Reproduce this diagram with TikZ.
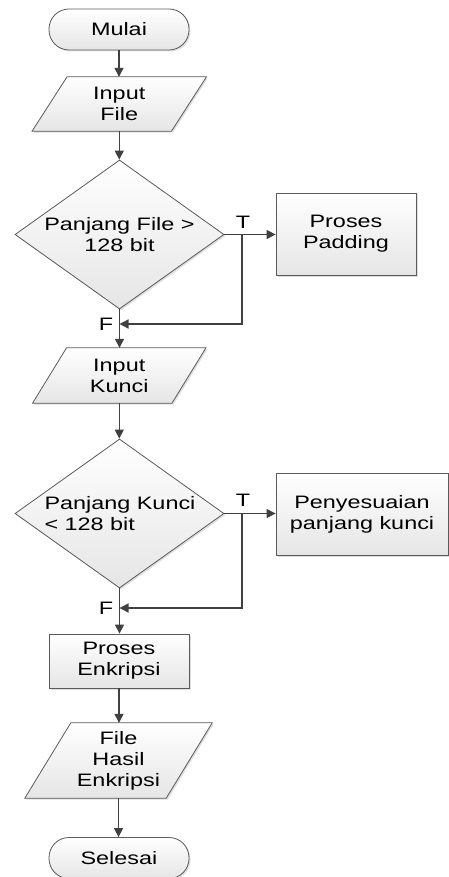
\documentclass[tikz,border=0pt]{standalone}
\usepackage{fontspec}
\setmainfont{Liberation Sans}[FakeStretch=1.3]
\usetikzlibrary{shapes.geometric,arrows.meta,shadows,backgrounds}
\definecolor{edgec}{HTML}{5A5A5A}
\definecolor{arrc}{HTML}{404040}
\tikzset{
 base/.style={draw=edgec, line width=0.8pt, top color=white, bottom color=gray!20,
   drop shadow={shadow xshift=1.5pt,shadow yshift=-1.5pt,opacity=0.25,fill=gray}},
 term/.style={base, rectangle, rounded corners=20pt, minimum width=140pt, minimum height=41pt, inner sep=0pt, align=center},
 proc/.style={base, rectangle, inner sep=0pt, align=center},
 dec/.style={base, diamond, minimum width=209pt, minimum height=149pt, inner sep=0pt},
 iobox/.style={rectangle, inner sep=0pt, align=center},
 txt/.style={inner sep=0pt},
 flow/.style={draw=arrc, line width=1.3pt, -{Triangle[length=9pt,width=9pt]}},
 lbl/.style={inner sep=0pt},
}
\begin{document}
\begin{tikzpicture}[x=1pt,y=-1pt,font=\fontsize{18}{21}\selectfont]
\useasboundingbox (0,0) rectangle (449,877);
% nodes
\node[term] (mulai) at (119,29.5) {Mulai};
\node[iobox, minimum width=139pt, minimum height=54pt] (inf) at (119.25,104) {Input\\File};
\node[dec] (d1) at (119.5,234.5) {};
\node[txt, align=center] (d1t) at (119.5,235) {Panjang File >\\128 bit};
\node[proc, minimum width=140pt, minimum height=82pt] (pad) at (346,234) {Proses\\Padding};
\node[iobox, minimum width=139pt, minimum height=55pt] (ink) at (119.25,375.5) {Input\\Kunci};
\node[dec] (d2) at (119.5,513.5) {};
\node[txt, align=left] (d2t) at (120,514) {Panjang Kunci\\< 128 bit};
\node[proc, minimum width=172pt, minimum height=82pt] (pen) at (362,514) {Penyesuaian\\panjang kunci};
\node[proc, minimum width=140pt, minimum height=54pt] (enk) at (119,661) {Proses\\Enkripsi};
\node[iobox, minimum width=141pt, minimum height=75pt] (hsl) at (118.5,760.5) {File\\Hasil\\Enkripsi};
\node[term] (sel) at (119,858) {Selesai};
% parallelogram outlines
\begin{scope}[on background layer]
\draw[base] ([xshift=17.5pt]inf.north west) -- ([xshift=17.5pt]inf.north east) -- ([xshift=-17.5pt]inf.south east) -- ([xshift=-17.5pt]inf.south west) -- cycle;
\draw[base] ([xshift=17pt]ink.north west) -- ([xshift=17pt]ink.north east) -- ([xshift=-17pt]ink.south east) -- ([xshift=-17pt]ink.south west) -- cycle;
\draw[base] ([xshift=23pt]hsl.north west) -- ([xshift=23pt]hsl.north east) -- ([xshift=-23pt]hsl.south east) -- ([xshift=-23pt]hsl.south west) -- cycle;
\end{scope}
% junction coordinates
\coordinate (j1) at (242,234.5);
\coordinate (m1) at (119.5,324);
\coordinate (j2) at (242,513.5);
\coordinate (m2) at (119.5,608);
% connectors
\draw[flow] (mulai.south) -- (mulai.south |- inf.north);
\draw[flow] (inf.south) -- (inf.south |- d1.north);
\draw[flow] (d1.east) -- (pad.west |- d1.east);
\draw[flow] (j1) |- (m1);
\draw[flow] (d1.south) -- (d1.south |- ink.north);
\draw[flow] (ink.south) -- (ink.south |- d2.north);
\draw[flow] (d2.east) -- (pen.west |- d2.east);
\draw[flow] (j2) |- (m2);
\draw[flow] (d2.south) -- (d2.south |- enk.north);
\draw[flow] (enk.south) -- (enk.south |- hsl.north);
\draw[flow] (hsl.south) -- (hsl.south |- sel.north);
% labels
\node[lbl] (t1) at (243,222) {T};
\node[lbl] (f1) at (106,324) {F};
\node[lbl] (t2) at (243,500) {T};
\node[lbl] (f2) at (106,608) {F};
\end{tikzpicture}
\end{document}
